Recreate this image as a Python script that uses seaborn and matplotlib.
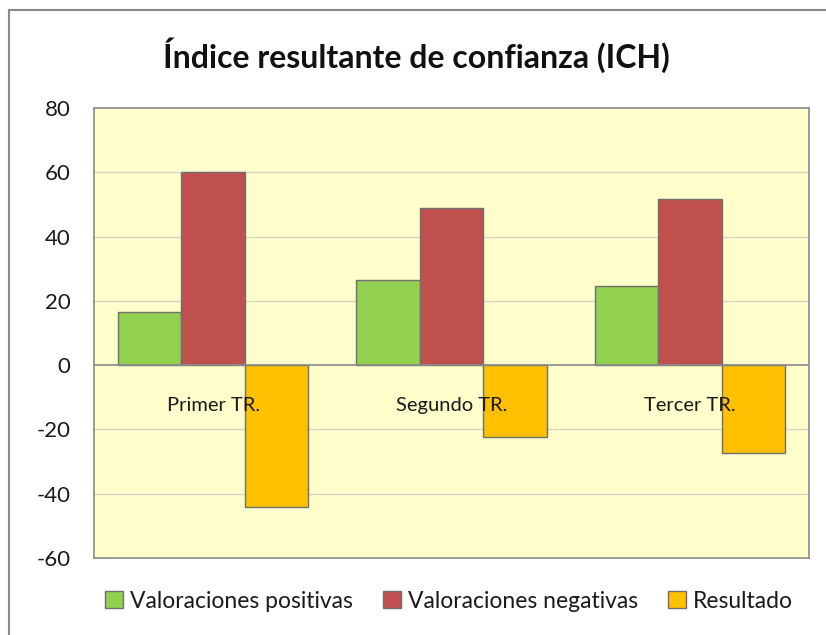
import numpy as np
import pandas as pd
import matplotlib.pyplot as plt
import matplotlib.patches as mpatches
import seaborn as sns

sns.set_style("white")
plt.rcParams['font.family'] = ['Lato', 'DejaVu Sans']

# datos
trimestres = ['Primer TR.', 'Segundo TR.', 'Tercer TR.']
positivas = [16.4, 26.4, 24.7]
negativas = [60.0, 48.9, 51.7]
resultado = [-44.0, -22.5, -27.2]
series = ['Valoraciones positivas', 'Valoraciones negativas', 'Resultado']
colores = ['#92D050', '#C0504D', '#FFC000']

df = pd.DataFrame({
    'trimestre': trimestres * 3,
    'serie': np.repeat(series, 3),
    'valor': positivas + negativas + resultado,
})

fig = plt.figure(figsize=(8.26, 6.35), dpi=100)
ax = fig.add_axes([94/826, 1 - 558/635, 715/826, 450/635])

sns.barplot(data=df, x='trimestre', y='valor', hue='serie', palette=colores,
            width=0.8, gap=0, edgecolor='#6f6f6f', linewidth=1.0,
            saturation=1, ax=ax, legend=False, zorder=3)

ax.set_facecolor('#FFFFCC')
ax.set_ylim(-60, 80)
ax.set_xlim(-0.5, 2.5)
ax.set_yticks(range(-60, 81, 20))
ax.set_yticklabels([str(v) for v in range(-60, 81, 20)], fontsize=16, color='#1a1a1a')
ax.tick_params(axis='y', length=0, pad=17)
ax.set_xticks([])
ax.set_xlabel('')
ax.set_ylabel('')
for v in range(-60, 81, 20):
    if v not in (0, 80, -60):
        ax.axhline(v, color='#d6d6c4', linewidth=1.0, zorder=1)
ax.axhline(0, color='#8a8a8a', linewidth=1.2, zorder=4)
for s in ax.spines.values():
    s.set_color('#8a8a8a')
    s.set_linewidth(1.2)

# etiquetas de categoria sobre el eje cero
for i, t in enumerate(trimestres):
    ax.text(i, -12.5, t, ha='center', va='center', fontsize=14.5, color='#1a1a1a', zorder=6)

fig.text(0.5 + 3/826, 1 - 55/635, 'Índice resultante de confianza (ICH)',
         ha='center', va='center', fontsize=23, fontweight='bold', color='#111111')

handles = [mpatches.Patch(facecolor=c, edgecolor='#6f6f6f', label=s)
           for c, s in zip(colores, series)]
fig.legend(handles=handles, loc='center', bbox_to_anchor=(449/826, 1 - 601/635),
           ncol=3, frameon=False, fontsize=16.5, handlelength=0.8, handleheight=0.8,
           handletextpad=0.3, columnspacing=1.3, labelcolor='#1a1a1a')

# borde del area del grafico
fig.patches.append(mpatches.Rectangle((9/826, -0.05), 1.1, 1 - 10/635 + 0.05,
                                      transform=fig.transFigure, fill=False,
                                      edgecolor='#8a8a8a', linewidth=1.5))

fig.savefig('out.png', dpi=100)
